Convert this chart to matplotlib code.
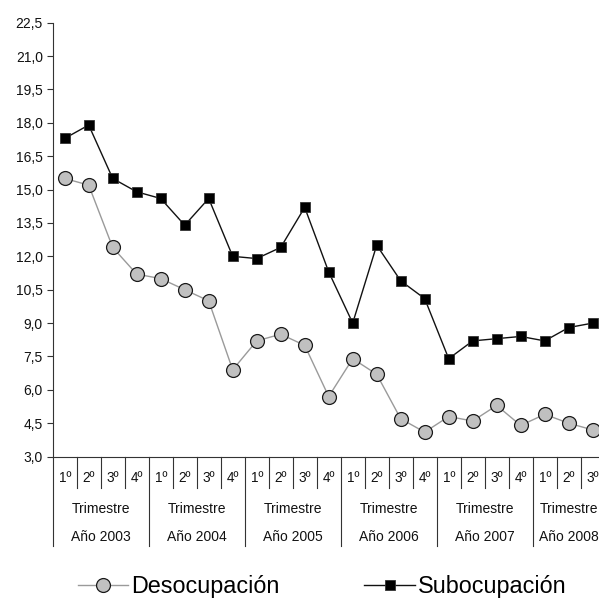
import matplotlib
matplotlib.use("Agg")
import matplotlib.pyplot as plt
import numpy as np

plt.rcParams['font.family'] = ['Liberation Sans', 'DejaVu Sans']

years = ["Año 2003", "Año 2004", "Año 2005", "Año 2006", "Año 2007", "Año 2008"]
quarters_per_year = [4, 4, 4, 4, 4, 3]
quarter_labels = ["1º", "2º", "3º", "4º"]
period_label = "Trimestre"

desocupacion = [15.5, 15.2, 12.4, 11.2, 11.0, 10.5, 10.0, 6.9,
                8.2, 8.5, 8.0, 5.7, 7.4, 6.7, 4.7, 4.1,
                4.8, 4.6, 5.3, 4.4, 4.9, 4.5, 4.2]
subocupacion = [17.3, 17.9, 15.5, 14.9, 14.6, 13.4, 14.6, 12.0,
                11.9, 12.4, 14.2, 11.3, 9.0, 12.5, 10.9, 10.1,
                7.4, 8.2, 8.3, 8.4, 8.2, 8.8, 9.0]

yticks = [3.0, 4.5, 6.0, 7.5, 9.0, 10.5, 12.0, 13.5, 15.0, 16.5, 18.0, 19.5, 21.0, 22.5]

W, H = 599, 598
fig = plt.figure(figsize=(W / 100, H / 100), dpi=100)
n = len(desocupacion)
left_px, right_px = 52.7, 52.7 + 24 * n
top_px, bottom_px = 22.7, 456.6
ax = fig.add_axes([left_px / W, 1 - bottom_px / H, (right_px - left_px) / W, (bottom_px - top_px) / H])

x = np.arange(n) + 0.5
ax.plot(x, desocupacion, color='#9a9a9a', lw=1.0, marker='o', ms=10,
        mfc='#c0c0c0', mec='#1a1a1a', mew=0.9, label='Desocupación', zorder=3)
ax.plot(x, subocupacion, color='#111111', lw=1.0, marker='s', ms=7.5,
        mfc='#000000', mec='#333333', mew=0.6, label='Subocupación', zorder=4)

ax.set_xlim(0, n)
ax.set_ylim(3.0, 22.5)
ax.set_yticks(yticks)
ax.set_yticklabels([f"{v:.1f}".replace('.', ',') for v in yticks], fontsize=10, color='#111111')
ax.set_xticks([])
ax.tick_params(axis='y', direction='out', length=4, width=0.8, color='#333333', pad=3)
for s in ['top', 'right']:
    ax.spines[s].set_visible(False)
for s in ['left', 'bottom']:
    ax.spines[s].set_color('#333333')
    ax.spines[s].set_linewidth(0.8)

trans = ax.get_xaxis_transform()
ah = bottom_px - top_px
def yf(py):
    return -(py - bottom_px) / ah

q_text_y = yf(478)
q_line_y = yf(488)
t_text_y = yf(509)
a_text_y = yf(537)
y_line_y = yf(546)

pos = 0
for yi, (yr, nq) in enumerate(zip(years, quarters_per_year)):
    ax.plot([pos, pos], [0, y_line_y], transform=trans, color='#333333', lw=0.8, clip_on=False)
    for q in range(nq):
        ax.text(pos + q + 0.5, q_text_y, quarter_labels[q], transform=trans,
                ha='center', va='center', fontsize=9.8, color='#111111')
        if q > 0:
            ax.plot([pos + q, pos + q], [0, q_line_y], transform=trans, color='#333333', lw=0.8, clip_on=False)
    center = pos + nq / 2
    ax.text(center, t_text_y, period_label, transform=trans, ha='center', va='center',
            fontsize=10, color='#111111')
    ax.text(center, a_text_y, yr, transform=trans, ha='center', va='center',
            fontsize=10, color='#111111')
    pos += nq
ax.plot([pos, pos], [0, y_line_y], transform=trans, color='#333333', lw=0.8, clip_on=False)

fig.legend(loc='center', bbox_to_anchor=(322 / W, 1 - 587 / H), ncol=2, frameon=False,
           fontsize=16.8, handlelength=2.15, handletextpad=0.12, columnspacing=3.65)

fig.savefig('out.png', dpi=100)
